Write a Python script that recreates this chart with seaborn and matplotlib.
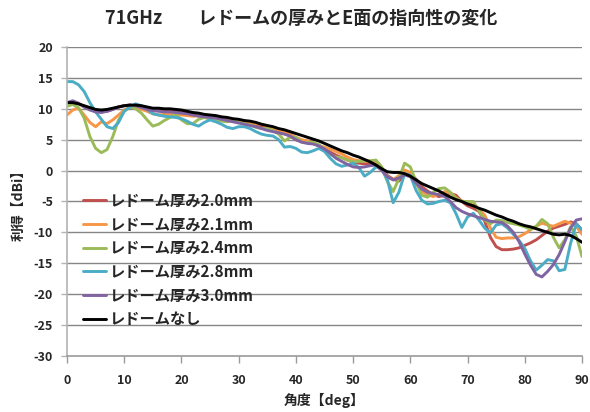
import numpy as np
import pandas as pd
import matplotlib
matplotlib.use("Agg")
import matplotlib.pyplot as plt
import seaborn as sns

angles = list(range(0, 91))

labels = ["レドーム厚み2.0mm", "レドーム厚み2.1mm", "レドーム厚み2.4mm",
          "レドーム厚み2.8mm", "レドーム厚み3.0mm", "レドームなし"]
colors = ["#C0504D", "#F79646", "#9BBB59", "#4BACC6", "#8064A2", "#000000"]

t20 = [10.9, 11.2, 10.9, 10.3, 9.9, 9.6, 9.5, 9.6, 9.9, 10.3,
       10.5, 10.6, 10.4, 10.1, 9.9, 9.8, 9.7, 9.7, 9.6, 9.6,
       9.5, 9.4, 9.2, 9.0, 8.9, 8.8, 8.7, 8.5, 8.3, 8.2,
       8.0, 7.8, 7.6, 7.4, 7.2, 6.9, 6.6, 6.3, 6.0, 5.6,
       5.0, 4.7, 4.8, 4.5, 4.1, 3.6, 3.0, 2.5, 2.1, 1.7,
       1.4, 1.2, 1.1, 1.1, 1.1, 0.3, -0.8, -1.4, -1.7, -0.6,
       -0.5, -1.4, -2.6, -3.3, -3.9, -4.2, -4.0, -3.7, -4.0, -5.0,
       -5.7, -6.1, -6.6, -8.2, -10.8, -12.3, -12.8, -12.8, -12.7, -12.5,
       -12.1, -11.7, -11.2, -10.5, -9.8, -9.3, -9.0, -8.7, -8.3, -8.6,
       -9.6]

t21 = [9.0, 9.8, 10.1, 9.0, 7.8, 7.1, 7.9, 7.6, 8.2, 9.0,
       9.8, 10.3, 10.2, 9.9, 9.6, 9.2, 9.0, 9.1, 9.1, 9.0,
       9.0, 8.9, 8.8, 8.9, 8.9, 8.8, 8.7, 8.5, 8.3, 8.2,
       8.1, 7.9, 7.7, 7.6, 7.5, 7.2, 6.9, 6.6, 6.3, 5.9,
       5.4, 5.0, 4.8, 4.4, 4.0, 3.8, 3.5, 3.1, 2.7, 2.2,
       1.8, 1.6, 1.5, 1.5, 1.4, 0.5, -1.0, -1.5, -0.8, 0.1,
       -0.3, -2.2, -3.4, -3.9, -4.2, -3.8, -3.4, -3.7, -4.4, -4.9,
       -5.2, -5.6, -6.3, -7.2, -9.3, -10.8, -11.0, -10.9, -10.9, -10.7,
       -10.2, -9.6, -9.0, -8.5, -8.8, -9.0, -8.6, -8.2, -8.5, -9.0,
       -10.3]

t24 = [10.4, 10.7, 10.2, 8.5, 5.5, 3.6, 2.9, 3.4, 5.5, 8.2,
       9.6, 10.3, 10.0, 9.3, 8.2, 7.2, 7.5, 8.1, 8.6, 9.1,
       8.2, 7.6, 7.6, 8.3, 8.6, 8.3, 8.2, 8.0, 7.9, 8.1,
       7.8, 7.6, 7.4, 7.0, 6.8, 6.8, 6.5, 5.9, 4.8, 5.4,
       5.4, 4.6, 4.5, 4.6, 4.2, 3.5, 2.6, 2.2, 2.1, 1.7,
       1.4, 1.5, 1.6, 1.6, 1.7, 0.6, -1.8, -3.4, -1.3, 1.2,
       0.6, -1.8, -4.0, -4.3, -3.5, -2.9, -2.8, -3.5, -4.5, -5.0,
       -5.0, -5.0, -6.5, -8.0, -8.6, -8.0, -8.1, -8.4, -8.6, -8.8,
       -9.1, -9.5, -9.0, -7.9, -8.6, -10.8, -12.5, -11.2, -9.1, -10.6,
       -13.9]

t28 = [14.4, 14.4, 13.9, 12.8, 11.0, 9.5, 8.3, 7.1, 6.8, 7.8,
       9.6, 10.3, 10.8, 10.5, 9.9, 9.2, 9.0, 8.8, 8.7, 8.6,
       8.4, 8.0, 7.5, 7.2, 7.8, 8.2, 7.9, 7.5, 7.0, 6.8,
       7.1, 7.1, 6.8, 6.3, 5.9, 5.7, 5.6, 5.0, 3.8, 3.9,
       3.6, 3.0, 2.9, 3.2, 3.6, 3.1, 2.0, 1.1, 0.7, 0.9,
       1.2, 0.5, -0.9, -0.3, 0.6, 0.2, -1.5, -5.2, -3.5, -0.5,
       -0.8, -3.2, -4.8, -5.4, -5.3, -5.0, -4.8, -5.2, -7.0, -9.2,
       -7.5, -6.9, -8.0, -9.3, -10.1, -8.8, -8.6, -9.3, -10.3, -11.3,
       -12.6, -14.6, -16.1, -15.3, -14.4, -14.6, -16.2, -16.0, -11.8, -8.6,
       -9.6]

t30 = [11.0, 11.3, 10.9, 10.3, 9.8, 9.5, 9.4, 9.6, 9.9, 10.3,
       10.5, 10.6, 10.5, 10.2, 9.9, 9.7, 9.6, 9.5, 9.5, 9.4,
       9.3, 9.2, 9.0, 8.8, 8.7, 8.6, 8.5, 8.3, 8.1, 7.9,
       7.7, 7.5, 7.3, 7.1, 6.8, 6.5, 6.3, 6.1, 5.9, 5.6,
       5.0, 4.6, 4.4, 4.3, 4.0, 3.5, 2.8, 2.0, 1.5, 1.0,
       0.6, 0.5, 0.6, 0.8, 0.9, 0.0, -1.0, -1.5, -1.2, -0.7,
       -1.0, -2.0, -3.0, -3.5, -3.7, -3.9, -4.2, -5.0, -6.0, -6.6,
       -7.0, -7.3, -7.6, -7.9, -8.2, -8.3, -8.4, -9.0, -10.0, -11.5,
       -13.5, -15.3, -16.8, -17.2, -16.3, -15.2, -13.6, -11.5, -9.3, -8.0,
       -7.8]

none = [11.0, 11.0, 10.8, 10.5, 10.2, 9.9, 9.8, 9.9, 10.1, 10.3,
        10.5, 10.6, 10.6, 10.5, 10.3, 10.1, 10.1, 10.0, 10.0, 9.9,
        9.8, 9.6, 9.4, 9.3, 9.1, 9.0, 8.9, 8.7, 8.6, 8.4,
        8.3, 8.1, 8.0, 7.8, 7.5, 7.3, 7.1, 6.8, 6.6, 6.3,
        6.0, 5.7, 5.4, 5.1, 4.8, 4.4, 4.0, 3.6, 3.2, 2.9,
        2.5, 2.2, 1.8, 1.4, 0.9, 0.3, -0.2, -0.3, -0.3, -0.5,
        -0.9, -1.5, -2.1, -2.5, -2.9, -3.3, -3.8, -4.3, -4.7, -5.0,
        -5.4, -5.7, -6.1, -6.4, -6.8, -7.2, -7.5, -7.9, -8.2, -8.6,
        -8.9, -9.1, -9.4, -9.7, -10.0, -10.3, -10.4, -10.3, -10.5, -11.0,
        -11.6]

series = [t20, t21, t24, t28, t30, none]

xticks = list(range(0, 91, 10))
yticks = list(range(-30, 21, 5))

title = "71GHz\u3000\u3000レドームの厚みとE面の指向性の変化"
xlabel = "角度【deg】"
ylabel = "利得【dBi】"

rows = []
for lab, vals in zip(labels, series):
    for a, v in zip(angles, vals):
        rows.append({"angle": a, "gain": v, "series": lab})
df = pd.DataFrame(rows)

sns.set_theme(style="white")
plt.rcParams["font.family"] = ["Noto Sans CJK JP", "DejaVu Sans"]
plt.rcParams["font.weight"] = "bold"

fig = plt.figure(figsize=(5.9, 4.12), dpi=100)
ax = fig.add_axes([67 / 590, 1 - 356 / 412, 515 / 590, 309 / 412])

sns.lineplot(data=df, x="angle", y="gain", hue="series", hue_order=labels,
             palette=colors, linewidth=2.1, ax=ax, legend=True,
             solid_joinstyle="round", solid_capstyle="round")

ax.set_xlim(0, 90)
ax.set_ylim(-30, 20)
ax.set_xticks(xticks)
ax.set_yticks(yticks)
ax.set_xticklabels([str(v) for v in xticks], fontsize=9, fontweight="bold")
ax.set_yticklabels([str(v) for v in yticks], fontsize=9, fontweight="bold")

for y in yticks[1:]:
    ax.axhline(y, color="#868686", linewidth=1.0, zorder=0)

for s in ["top", "right"]:
    ax.spines[s].set_visible(False)
ax.spines["left"].set_color("#b3b3b3")
ax.spines["bottom"].set_color("#9a9a9a")
ax.spines["left"].set_linewidth(1.2)
ax.spines["bottom"].set_linewidth(1.2)
ax.tick_params(axis="x", direction="out", length=5, width=1, color="#9a9a9a",
               pad=8, bottom=True)
ax.tick_params(axis="y", direction="out", length=4, width=1, color="#b3b3b3",
               pad=6, left=True)

ax.set_xlabel(xlabel, fontsize=10, fontweight="bold", labelpad=4)
ax.set_ylabel(ylabel, fontsize=10, fontweight="bold", labelpad=6)
fig.text(0.51, 0.955, title, ha="center", va="center", fontsize=13,
         fontweight="bold")

handles, labs = ax.get_legend_handles_labels()
leg = ax.legend(handles, labs, loc="upper left", bbox_to_anchor=(0.02, 0.548),
                frameon=False, fontsize=11, handlelength=1.5,
                handletextpad=0.15, labelspacing=0.5, borderaxespad=0)
for t in leg.get_texts():
    t.set_fontweight("bold")
for h in leg.get_lines():
    h.set_linewidth(2.1)

fig.savefig("out.png", dpi=100)
